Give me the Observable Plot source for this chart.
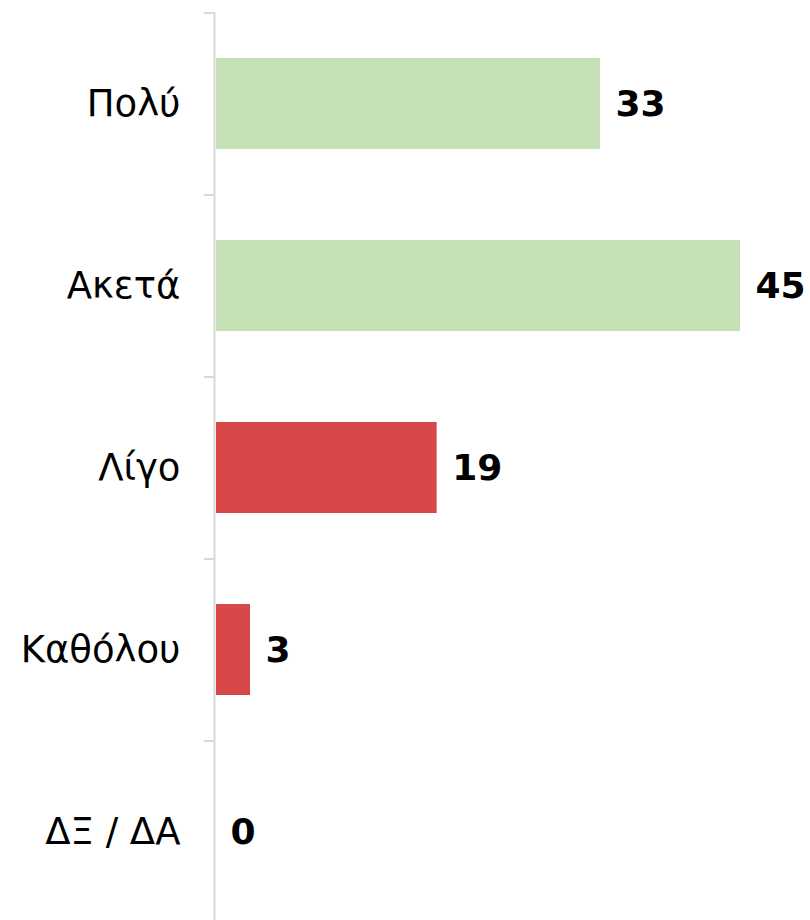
<!DOCTYPE html>
<html><head><meta charset="utf-8">
<script src="https://cdn.jsdelivr.net/npm/d3@7"></script>
<script src="https://cdn.jsdelivr.net/npm/@observablehq/plot@0.6"></script>
<style>html,body{margin:0;padding:0;background:#fff;overflow:hidden}</style>
</head><body><div id="chart"></div>
<script>
const categories = ["Πολύ", "Ακετά", "Λίγο", "Καθόλου", "ΔΞ / ΔΑ"];
const values = [33, 45, 19, 3, 0];
const colors = ["#C5E0B4", "#C5E0B4", "#D84848", "#D84848", "#D84848"];
const data = categories.map((c, i) => ({category: c, value: values[i], color: colors[i]}));

const chart = Plot.plot({
  width: 810, height: 922,
  marginTop: 12, marginBottom: 0, marginLeft: 215, marginRight: 70,
  x: {domain: [0, 45], axis: null},
  y: {domain: categories, paddingInner: 0.5, paddingOuter: 0.25, label: null, axis: null},
  style: {background: "#fff"},
  marks: [
    Plot.barX(data, {y: "category", x: "value", fill: "color", insetLeft: 1}),
    Plot.axisY({tickSize: 0, tickPadding: 35, fontSize: 37, fontFamily: "DejaVu Sans", fill: "#000", label: null}),
    Plot.axisY({tickSize: 11, text: null, dy: -91, stroke: "#d9d9d9", strokeWidth: 2, label: null}),
    Plot.ruleX([0], {stroke: "#d9d9d9", strokeWidth: 2, dx: -1}),
    Plot.text(data, {y: "category", x: "value", text: d => String(d.value), dx: 15, textAnchor: "start",
      fontSize: 36, fontWeight: "bold", fontFamily: "DejaVu Sans", fill: "#000"})
  ]
});
document.getElementById("chart").appendChild(chart);
</script>
</body></html>
